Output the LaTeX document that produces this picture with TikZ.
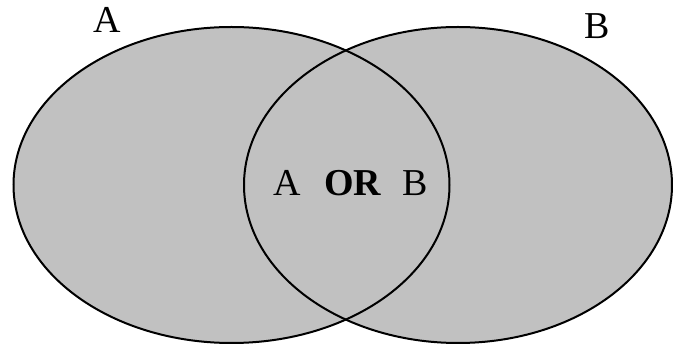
\documentclass[tikz,border=0pt]{standalone}
\usepackage{fontspec}
\setmainfont{Liberation Serif}
\definecolor{setgray}{RGB}{193,193,193}

\begin{document}
\begin{tikzpicture}[x=1pt, y=1pt,
  setfill/.style={fill=setgray},
  setline/.style={draw=black, line width=2pt},
  setlabel/.style={anchor=base, inner sep=0pt, font=\fontsize{38}{40}\selectfont}
]
  \useasboundingbox (0,0) rectangle (673,345);
  % the two sets
  \fill[setfill] (231.5,160) ellipse [x radius=218, y radius=158];
  \fill[setfill] (458,160) ellipse [x radius=214, y radius=158];
  \draw[setline] (231.5,160) ellipse [x radius=218, y radius=158];
  \draw[setline] (458,160) ellipse [x radius=214, y radius=158];
  % labels
  \node[setlabel] (labA) at (107,312) {A};
  \node[setlabel] (labB) at (597,306) {B};
  \node[setlabel] (midA) at (287,149) {A};
  \node[setlabel] (midOR) at (353,149) {\textbf{OR}};
  \node[setlabel] (midB) at (415,149) {B};
\end{tikzpicture}
\end{document}
